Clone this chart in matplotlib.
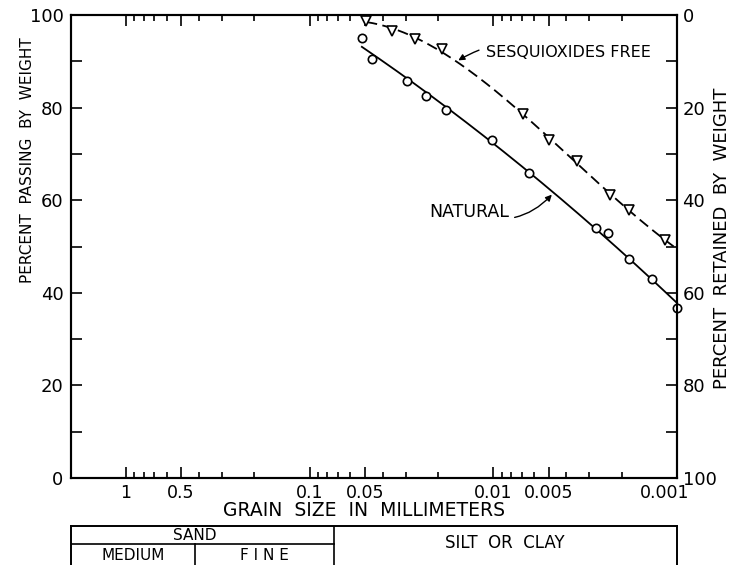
import numpy as np
import matplotlib
matplotlib.use("Agg")
import matplotlib.pyplot as plt
import matplotlib.transforms as mtransforms

plt.rcParams['font.family'] = ['DejaVu Sans']

# ---- data ----
natural_size = [0.0519, 0.0455, 0.0293, 0.0233, 0.0181, 0.0102, 0.00642,
                0.00275, 0.00238, 0.00182, 0.00136, 0.00100]
natural_pass = [95.1, 90.6, 85.7, 82.6, 79.5, 72.9, 65.8,
                54.1, 53.0, 47.3, 42.9, 36.7]

sesq_size = [0.0490, 0.0358, 0.0266, 0.0190, 0.00692, 0.00500, 0.00348,
             0.00233, 0.00183, 0.00116]
sesq_pass = [98.8, 96.6, 94.9, 92.6, 78.6, 73.0, 68.5, 61.2, 57.9, 51.4]

xtick_vals = [1, 0.5, 0.1, 0.05, 0.01, 0.005, 0.001]
xtick_labels = ['1', '0.5', '0.1', '0.05', '0.01', '0.005', '0.001']
ytick_vals = [0, 20, 40, 60, 80, 100]

# soil classification boundaries (mm)
x_max, x_min = 2.0, 0.001
medium_fine = 0.42
sand_silt = 0.074

W, H = 731, 565
fig = plt.figure(figsize=(W / 100, H / 100), dpi=100)
L, R, T, B = 70.5, 677, 15, 478
ax = fig.add_axes([L / W, 1 - B / H, (R - L) / W, (B - T) / H])
ax.set_xscale('log')
ax.set_xlim(x_max, x_min)
ax.set_ylim(0, 100)

# fitted smooth curves
def fit_curve(xs, ys, deg, x_end):
    lx = np.log10(xs)
    p = np.polyfit(lx, ys, deg)
    u = np.linspace(lx.max(), np.log10(x_end), 200)
    return 10 ** u, np.polyval(p, u)

cx, cy = fit_curve(np.array(natural_size), np.array(natural_pass), 2, min(natural_size))
ax.plot(cx, cy, color='black', lw=1.3, zorder=3, clip_on=False)
sx, sy = fit_curve(np.array(sesq_size), np.array(sesq_pass), 3, x_min)
ax.plot(sx, sy, color='black', lw=1.3, ls=(0, (6, 3)), zorder=3, clip_on=False)

ax.plot(natural_size, natural_pass, ls='none', marker='o', ms=6,
        mfc='white', mec='black', mew=1.2, zorder=5, clip_on=False)
ax.plot(sesq_size, sesq_pass, ls='none', marker='v', ms=7.5,
        mfc='white', mec='black', mew=1.2, zorder=5, clip_on=False)

# ticks
minor = []
for dec in [1, 0.1, 0.01, 0.001]:
    for m in [2, 3, 4, 6, 7, 8, 9]:
        v = m * dec
        if x_min < v <= x_max:
            minor.append(v)
ax.set_xticks(xtick_vals)
ax.set_xticklabels(xtick_labels)
ax.set_xticks(minor, minor=True)
ax.xaxis.set_minor_formatter(matplotlib.ticker.NullFormatter())
ax.tick_params(axis='x', which='both', direction='in', top=True, bottom=True,
               labelsize=12.5, pad=4, width=1.2)
ax.tick_params(axis='x', which='major', length=8)
ax.tick_params(axis='x', which='minor', length=4)

ax.set_yticks(ytick_vals)
ax.set_yticks(range(10, 100, 20), minor=True)
ax.tick_params(axis='y', which='both', direction='in', left=True, right=False,
               length=8, width=1.2, labelsize=13, pad=5)

axr = ax.twinx()
axr.set_ylim(100, 0)
axr.set_yticks(ytick_vals)
axr.set_yticks(range(10, 100, 20), minor=True)
axr.tick_params(axis='y', which='both', direction='in', length=8, width=1.2,
                labelsize=13, pad=4)

for a in (ax, axr):
    for s in a.spines.values():
        s.set_linewidth(1.5)

# shift 0.001 label left
lab = ax.get_xticklabels()[-1]
lab.set_transform(lab.get_transform() + mtransforms.ScaledTranslation(-12 / 100, 0, fig.dpi_scale_trans))

# axis titles
fig.text(28 / W, 1 - 160 / H, 'PERCENT  PASSING  BY  WEIGHT', rotation=90,
         ha='center', va='center', fontsize=11)
fig.text(722 / W, 1 - 238 / H, 'PERCENT  RETAINED  BY  WEIGHT', rotation=90,
         ha='center', va='center', fontsize=13)
fig.text(364 / W, 1 - 510 / H, 'GRAIN  SIZE  IN  MILLIMETERS',
         ha='center', va='center', fontsize=13.5)

# annotations
ax.annotate('SESQUIOXIDES FREE', xy=(0.0155, 90.2), xytext=(0.0110, 92.0),
            ha='left', va='center', fontsize=11.5,
            arrowprops=dict(arrowstyle='-|>', color='black', lw=1.0,
                            connectionstyle='arc3,rad=0.25', shrinkA=3, shrinkB=0,
                            mutation_scale=9))
ax.annotate('NATURAL', xy=(0.0048, 61.2), xytext=(0.0223, 57.5),
            ha='left', va='center', fontsize=12.5,
            arrowprops=dict(arrowstyle='-|>', color='black', lw=1.0,
                            connectionstyle='arc3,rad=0.35', shrinkA=2, shrinkB=0,
                            mutation_scale=9))

# classification table
tb_top, tb_bot = 526, 580
axt = fig.add_axes([L / W, 1 - tb_bot / H, (R - L) / W, (tb_bot - tb_top) / H])
axt.set_xscale('log')
axt.set_xlim(x_max, x_min)
axt.set_ylim(0, 1)
axt.set_xticks([]); axt.set_yticks([])
axt.xaxis.set_minor_locator(matplotlib.ticker.NullLocator())
axt.patch.set_alpha(0)
axt.spines['bottom'].set_visible(False)
for k in ['left', 'right', 'top']:
    axt.spines[k].set_linewidth(1.4)
mid = (tb_bot - 544) / (tb_bot - tb_top)
axt.plot([x_max, sand_silt], [mid, mid], color='black', lw=1.2)
axt.plot([sand_silt, sand_silt], [0, 1], color='black', lw=1.2)
axt.plot([medium_fine, medium_fine], [0, mid], color='black', lw=1.2)
axt.text(medium_fine, (tb_bot - 535) / (tb_bot - tb_top), 'SAND', ha='center', va='center', fontsize=11)
axt.text(np.sqrt(x_max * medium_fine), (tb_bot - 556) / (tb_bot - tb_top), 'MEDIUM', ha='center', va='center', fontsize=11)
axt.text(np.sqrt(medium_fine * sand_silt), (tb_bot - 556) / (tb_bot - tb_top), 'F I N E', ha='center', va='center', fontsize=11)
axt.text(np.sqrt(sand_silt * x_min), (tb_bot - 543) / (tb_bot - tb_top), 'SILT  OR  CLAY', ha='center', va='center', fontsize=12)

fig.savefig('out.png', dpi=100)
